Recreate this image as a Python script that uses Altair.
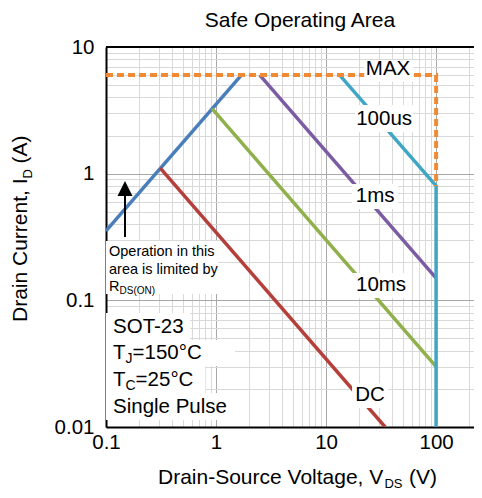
import altair as alt
import pandas as pd

# ---------------- data ----------------
series_names = ["RDS(on)", "DC", "10ms", "1ms", "100us"]
series_colors = ["#4a7ebb", "#b5403b", "#8fb04a", "#7b5ca3", "#3fa6c4"]

rds_v = [0.1, 1.70]
rds_i = [0.353, 6.0]
dc_v = [0.31, 34.4]
dc_i = [1.11, 0.01]
ms10_v = [0.92, 100]
ms10_i = [3.26, 0.03]
ms1_v = [2.5, 100]
ms1_i = [6.0, 0.15]
us100_v = [13.3, 100, 100]
us100_i = [6.0, 0.8, 0.01]
max_v = [0.1, 100, 100]
max_i = [6.0, 6.0, 0.8]

x_ticks = [0.1, 0.2, 0.3, 0.4, 0.5, 0.6, 0.7, 0.8, 0.9,
           1, 2, 3, 4, 5, 6, 7, 8, 9,
           10, 20, 30, 40, 50, 60, 70, 80, 90,
           100, 200]
y_ticks = [0.01, 0.02, 0.03, 0.04, 0.05, 0.06, 0.07, 0.08, 0.09,
           0.1, 0.2, 0.3, 0.4, 0.5, 0.6, 0.7, 0.8, 0.9,
           1, 2, 3, 4, 5, 6, 7, 8, 9, 10]

rows = []
for name, vs, cs in [("RDS(on)", rds_v, rds_i), ("DC", dc_v, dc_i),
                     ("10ms", ms10_v, ms10_i), ("1ms", ms1_v, ms1_i),
                     ("100us", us100_v, us100_i)]:
    for k, (v, c) in enumerate(zip(vs, cs)):
        rows.append({"series": name, "V": v, "I": c, "k": k})
lines_df = pd.DataFrame(rows)
max_df = pd.DataFrame({"V": max_v, "I": max_i, "k": list(range(len(max_v)))})

# ---------------- styling ----------------
FONT = "Liberation Sans"
W, H = 368, 380
XMAX = 221
xs = alt.Scale(type="log", domain=[0.1, XMAX], nice=False)
ys = alt.Scale(type="log", domain=[0.01, 10], nice=False)
decade = "indexof([0.01, 0.1, 1, 10, 100], datum.value) >= 0"
grid_color = {"condition": {"test": decade, "value": "#a8a8a8"}, "value": "#d9d9d9"}

xaxis = alt.Axis(values=x_ticks, title=None, ticks=False, grid=True,
                 gridColor=grid_color, gridWidth=1,
                 domainColor="black", domainWidth=2,
                 labelFont=FONT, labelFontSize=20.5, labelColor="black",
                 labelPadding=5, labelFlush=False, labelOverlap=False,
                 format="~g", labelExpr=f"{decade} ? datum.label : ''")
yaxis = alt.Axis(values=y_ticks, title=None, ticks=False, grid=True,
                 gridColor=grid_color, gridWidth=1,
                 domainColor="black", domainWidth=2,
                 labelFont=FONT, labelFontSize=20.5, labelColor="black",
                 labelPadding=12, labelFlush=False, labelOverlap=False,
                 format="~g", labelExpr=f"{decade} ? datum.label : ''")


def X(field="V"):
    return alt.X(f"{field}:Q", scale=xs, axis=xaxis)


def Y(field="I"):
    return alt.Y(f"{field}:Q", scale=ys, axis=yaxis)


layers = []

# SOA curves
layers.append(
    alt.Chart(lines_df).mark_line(strokeWidth=3.5, clip=True).encode(
        x=X(), y=Y(),
        color=alt.Color("series:N", scale=alt.Scale(domain=series_names, range=series_colors), legend=None),
        order="k:Q",
    )
)
# MAX dashed limit
layers.append(
    alt.Chart(max_df).mark_line(strokeWidth=4, color="#f08a34", strokeDash=[7, 4], clip=True).encode(
        x=X(), y=Y(), order="k:Q"
    )
)
# top frame line
layers.append(
    alt.Chart(pd.DataFrame({"V": [0.1], "V2": [XMAX], "I": [10]})).mark_rule(color="black", strokeWidth=2).encode(
        x=X(), x2="V2:Q", y=Y()
    )
)

# white label backgrounds (data coordinates)
box_v = [22.2, 18.35, 17.23, 17.23, 17.23, 0.1, 0.1, 0.1, 0.1, 0.1]
box_v2 = [61.8, 61.8, 45.1, 58.0, 36.6, 1.043, 0.58, 1.488, 0.80, 1.488]
box_i = [7.90, 3.485, 0.829, 0.1646, 0.02229, 0.2943, 0.0796, 0.0487, 0.03036, 0.01858]
box_i2 = [5.29, 2.134, 0.5265, 0.1045, 0.01415, 0.1123, 0.0487, 0.03036, 0.01858, 0.01138]
boxes = pd.DataFrame({"V": box_v, "V2": box_v2, "I": box_i, "I2": box_i2})
layers.append(
    alt.Chart(boxes).mark_rect(color="white").encode(x=X(), x2="V2:Q", y=Y(), y2="I2:Q")
)


def seg(v, i, text, size, dx=0, dy=0, align="left"):
    return alt.Chart(pd.DataFrame({"V": [v], "I": [i]})).mark_text(
        text=text, font=FONT, fontSize=size, color="black", align=align,
        baseline="middle", dx=dx, dy=dy
    ).encode(x=X(), y=Y())


# curve labels
curve_lbl_v = [36.6, 33.7, 27.9, 31.6, 25.1]
curve_lbl_i = [6.7, 2.70, 0.661, 0.1311, 0.01792]
curve_lbl_t = ["MAX", "100us", "1ms", "10ms", "DC"]
for v, c, t in zip(curve_lbl_v, curve_lbl_i, curve_lbl_t):
    layers.append(seg(v, c, t, 20.5, align="center"))

# conditions block
cx = 0.1158
layers.append(seg(cx, 0.0620, "SOT-23", 20.5))
layers.append(seg(cx, 0.03845, "T", 20.5))
layers.append(seg(cx, 0.03845, "J", 14, dx=12.5, dy=6))
layers.append(seg(cx, 0.03845, "=150°C", 20.5, dx=19.5))
layers.append(seg(cx, 0.02366, "T", 20.5))
layers.append(seg(cx, 0.02366, "C", 14, dx=12.5, dy=6))
layers.append(seg(cx, 0.02366, "=25°C", 20.5, dx=22.6))
layers.append(seg(cx, 0.01449, "Single Pulse", 20.5))

# Rds(on) note
ox = 0.1065
layers.append(seg(ox, 0.241, "Operation in this", 14.5))
layers.append(seg(ox, 0.174, "area is limited by", 14.5))
layers.append(seg(ox, 0.1276, "R", 14.5))
layers.append(seg(ox, 0.1276, "DS(ON)", 10, dx=10.5, dy=4))

# arrow
layers.append(
    alt.Chart(pd.DataFrame({"V": [0.1488], "I": [0.316], "I2": [0.74]})).mark_rule(color="black", strokeWidth=2).encode(
        x=X(), y=Y(), y2="I2:Q"
    )
)
layers.append(
    alt.Chart(pd.DataFrame({"V": [0.1488], "I": [0.764]})).mark_point(
        shape="M0,-1L1,1L-1,1Z", size=225, filled=True, color="black", opacity=1
    ).encode(x=X(), y=Y())
)


# titles (pixel placement around the plot area)
def ptxt(x, y, text, size, angle=0, align="left", baseline="alphabetic"):
    return alt.Chart(pd.DataFrame({"d": [0]})).mark_text(
        text=text, font=FONT, fontSize=size, color="black", align=align,
        baseline=baseline, angle=angle
    ).encode(x=alt.value(x), y=alt.value(y))


layers.append(ptxt(194, -20, "Safe Operating Area", 21, align="center"))
layers.append(ptxt(52, 437, "Drain-Source Voltage, V", 21))
layers.append(ptxt(278.4, 441, "DS", 13))
layers.append(ptxt(303, 437, "(V)", 21))
layers.append(ptxt(-79, 275, "Drain Current, I", 21, angle=270))
layers.append(ptxt(-74, 131.5, "D", 13, angle=270))
layers.append(ptxt(-79, 116.5, "(A)", 21, angle=270))

chart = alt.layer(*layers).properties(
    width=W, height=H,
    padding={"left": 98, "top": 39, "right": 0, "bottom": 63},
    autosize=alt.AutoSizeParams(type="none"),
).configure_view(stroke=None)

chart.save("out.html", embed_options={"renderer": "svg", "actions": False})
